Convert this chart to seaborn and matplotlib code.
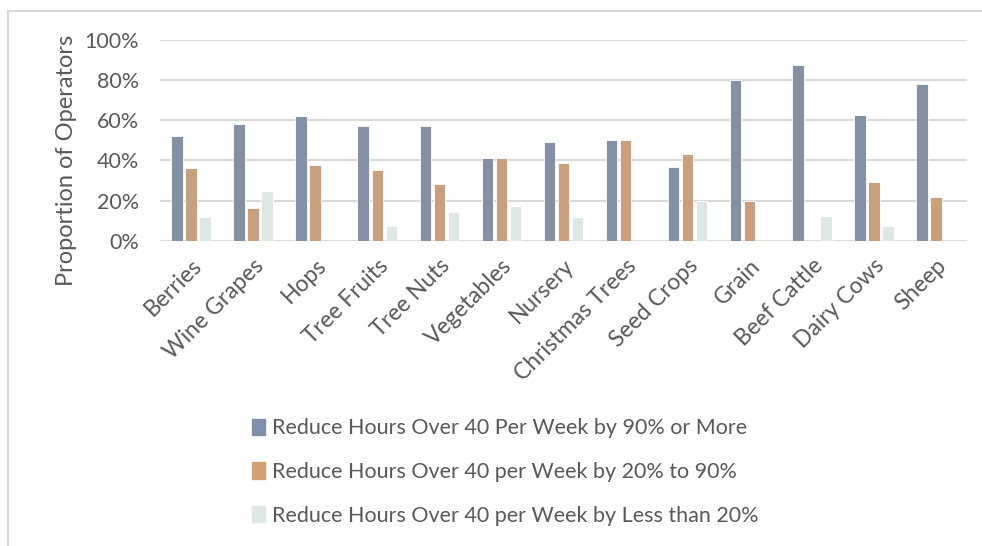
import pandas as pd
import matplotlib.pyplot as plt
import matplotlib.patches as mpatches
import seaborn as sns

categories = ['Berries', 'Wine Grapes', 'Hops', 'Tree Fruits', 'Tree Nuts', 'Vegetables', 'Nursery',
              'Christmas Trees', 'Seed Crops', 'Grain', 'Beef Cattle', 'Dairy Cows', 'Sheep']
series_names = ['Reduce Hours Over 40 Per Week by 90% or More',
                'Reduce Hours Over 40 per Week by 20% to 90%',
                'Reduce Hours Over 40 per Week by Less than 20%']
reduce_90_plus = [0.52, 0.58, 0.62, 0.57, 0.57, 0.41, 0.49, 0.50, 0.365, 0.80, 0.873, 0.627, 0.778]
reduce_20_90 = [0.36, 0.165, 0.375, 0.353, 0.284, 0.41, 0.387, 0.50, 0.43, 0.197, 0.0, 0.295, 0.22]
reduce_under_20 = [0.12, 0.25, 0.0, 0.075, 0.142, 0.175, 0.12, 0.0, 0.20, 0.0, 0.122, 0.072, 0.0]
colors = ['#7F8EA9', '#D49F72', '#DDE8E4']

rows = []
for name, vals in zip(series_names, [reduce_90_plus, reduce_20_90, reduce_under_20]):
    for c, v in zip(categories, vals):
        rows.append({'Crop': c, 'Series': name, 'Value': v})
df = pd.DataFrame(rows)

sns.set_theme(style='white')
plt.rcParams['font.family'] = ['Lato', 'DejaVu Sans']
text_color = '#595959'

fig = plt.figure(figsize=(9.82, 5.46), dpi=100)
ax = fig.add_axes([160 / 982, 1 - 241 / 546, 807 / 982, 201.5 / 546])

sns.barplot(data=df, x='Crop', y='Value', hue='Series', palette=colors, ax=ax,
            width=0.68, gap=0.18, edgecolor='white', linewidth=0.6, legend=False)

ax.set_ylim(0, 1)
ax.set_xlim(-0.5, len(categories) - 0.5)
ax.set_yticks([0, 0.2, 0.4, 0.6, 0.8, 1.0])
ax.set_yticklabels(['0%', '20%', '40%', '60%', '80%', '100%'], fontsize=15.5, color=text_color)
ax.yaxis.grid(True, color='#D9D9D9', linewidth=1.5)
ax.set_axisbelow(True)
for s in ax.spines.values():
    s.set_visible(False)
ax.tick_params(axis='y', length=0, pad=15)
ax.tick_params(axis='x', length=0, pad=10)
ax.set_xticks(range(len(categories)))
ax.set_xticklabels(categories, rotation=45, ha='right', rotation_mode='anchor',
                   fontsize=16.5, color=text_color)
ax.set_xlabel('')
ax.set_ylabel('Proportion of Operators', fontsize=17, color=text_color)
ax.yaxis.set_label_coords(-83 / 807, 0.40)

handles = [mpatches.Patch(color=c, label=n) for c, n in zip(colors, series_names)]
fig.legend(handles=handles, loc='upper left', bbox_to_anchor=(233 / 982, 1 - 399 / 546),
           frameon=False, fontsize=15.5, labelcolor=text_color, handlelength=0.6,
           handleheight=0.8, handletextpad=0.3, labelspacing=1.1)

fig.add_artist(mpatches.Rectangle((8 / 982, -0.01), 1.2, 1 - 11 / 546 + 0.01,
                                  transform=fig.transFigure, fill=False,
                                  edgecolor='#D9D9D9', linewidth=1.5))

fig.savefig('out.png', dpi=100)
